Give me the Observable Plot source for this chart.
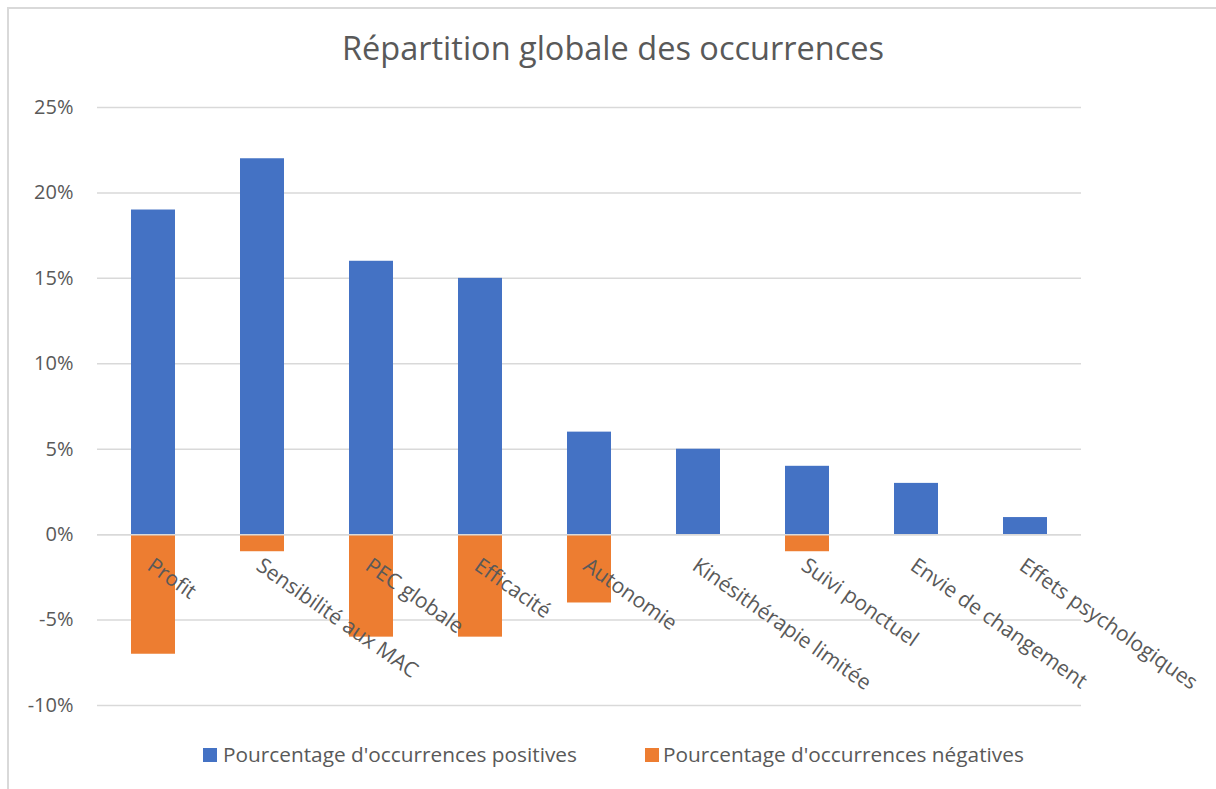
<!DOCTYPE html>
<html>
<head>
<meta charset="utf-8">
<script src="https://cdn.jsdelivr.net/npm/d3@7"></script>
<script src="https://cdn.jsdelivr.net/npm/@observablehq/plot@0.6"></script>
<style>
  html, body { margin: 0; padding: 0; background: #fff; overflow: hidden; width: 1216px; height: 789px; }
  body { position: relative; font-family: "Open Sans", sans-serif; color: #595959; }
  #frame { position: absolute; left: 7px; top: 7px; width: 1230px; height: 800px; border: 2px solid #D9D9D9; box-sizing: border-box; }
  #title { position: absolute; left: 0; top: 28px; width: 1226px; text-align: center; font-size: 32.5px; color: #595959; line-height: 1.2; }
  #chart { position: absolute; left: 0; top: 85px; }
  .sw { position: absolute; width: 14px; height: 14px; }
  .lt { position: absolute; font-size: 20.8px; color: #595959; white-space: nowrap; line-height: 1; }
</style>
</head>
<body>
<div id="frame"></div>
<div id="title">Répartition globale des occurrences</div>
<div id="chart"></div>
<div class="sw" style="left:203px;top:748px;background:#4472C4"></div>
<div class="lt" id="l1" style="left:223px;top:744px">Pourcentage d'occurrences positives</div>
<div class="sw" style="left:645px;top:748px;background:#ED7D31"></div>
<div class="lt" id="l2" style="left:663px;top:744px">Pourcentage d'occurrences négatives</div>
<script>
const categories = ["Profit", "Sensibilité aux MAC", "PEC globale", "Efficacité", "Autonomie", "Kinésithérapie limitée", "Suivi ponctuel", "Envie de changement", "Effets psychologiques"];
const positives = [19, 22, 16, 15, 6, 5, 4, 3, 1];
const negatives = [-7, -1, -6, -6, -4, 0, -1, 0, 0];
const yTicks = [-10, -5, 0, 5, 10, 15, 20, 25];
const seriesNames = ["Pourcentage d'occurrences positives", "Pourcentage d'occurrences négatives"];
const colors = ["#4472C4", "#ED7D31"];

const rows = categories.flatMap((c, i) => [
  {cat: c, series: seriesNames[0], v: positives[i] / 100},
  {cat: c, series: seriesNames[1], v: negatives[i] / 100}
]);

const chart = Plot.plot({
  width: 1216,
  height: 645,
  marginLeft: 97,
  marginRight: 135,
  marginTop: 22,
  marginBottom: 25,
  style: {fontFamily: "'Open Sans', sans-serif", fontSize: "20px", color: "#595959", background: "transparent", overflow: "visible"},
  x: {domain: categories, paddingInner: 0.6, paddingOuter: 0.3, axis: null},
  y: {domain: [-0.10, 0.25], ticks: yTicks.map(d => d / 100), tickFormat: d => Math.round(d * 100) + "%", tickSize: 0, tickPadding: 24, label: null},
  color: {domain: seriesNames, range: colors},
  marks: [
    Plot.gridY(yTicks.map(d => d / 100), {stroke: "#D9D9D9", strokeOpacity: 1, strokeWidth: 1.5}),
    Plot.barY(rows, {x: "cat", y: "v", fill: "series"}),
    Plot.ruleY([0], {stroke: "#D9D9D9", strokeWidth: 1.5}),
    Plot.text(categories, {x: d => d, y: () => 0, text: d => d, rotate: 35, textAnchor: "start", lineAnchor: "top", dx: 1, dy: 22, fill: "#595959", fontSize: 21})
  ]
});
document.getElementById("chart").appendChild(chart);
</script>
</body>
</html>
